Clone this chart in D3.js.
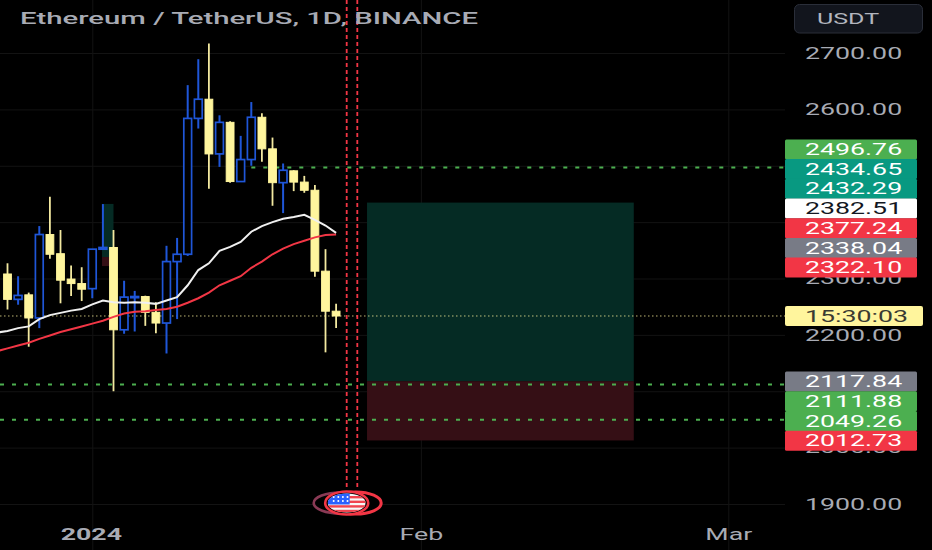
<!DOCTYPE html>
<html>
<head>
<meta charset="utf-8">
<script src="https://cdn.jsdelivr.net/npm/d3@7"></script>
<style>
  html, body { margin: 0; background: #000; }
  svg { display: block; }
  text { font-family: Roboto, sans-serif; }
</style>
</head>
<body>
<div id="chart"></div>
<script>
// Candles, one per day starting at firstDay
const firstDay = new Date(Date.UTC(2023, 11, 24));
const opens  = [2308, 2263, 2271, 2230, 2378, 2344, 2299, 2291, 2282, 2352, 2355, 2209, 2266, 2268, 2240, 2221, 2330, 2343, 2584, 2618, 2521, 2577, 2472, 2511, 2586, 2530, 2470, 2491, 2471, 2456.5, 2313, 2242];
const highs  = [2327, 2304, 2275, 2393, 2445, 2386, 2323, 2320, 2352, 2432, 2386, 2296, 2278, 2269.5, 2258, 2358, 2372, 2643, 2689, 2717, 2589.5, 2579, 2553, 2613, 2593, 2550, 2504, 2492, 2482, 2466, 2352, 2255];
const lows   = [2245, 2253.5, 2179, 2212, 2335, 2256, 2269, 2260, 2265, 2352, 2100, 2202, 2206, 2216, 2203, 2167, 2228, 2340, 2566, 2459, 2498, 2470, 2472, 2500, 2507, 2429, 2416, 2455, 2452, 2303, 2169, 2212];
const closes = [2263, 2270, 2230, 2378, 2343, 2297, 2291, 2281, 2352, 2355, 2209, 2267, 2268, 2240, 2221, 2330, 2343, 2584, 2618, 2521, 2577, 2472, 2511, 2586, 2530, 2470, 2492, 2471, 2456.5, 2313, 2242, 2233.5];

// Moving averages, first value is one day before firstDay
const whiteMa = [2204, 2207, 2212, 2215, 2228, 2235, 2239, 2243, 2246, 2254, 2261, 2258, 2257, 2258, 2257, 2255, 2261, 2267, 2288, 2315, 2327, 2349, 2356, 2365, 2383, 2393, 2400, 2406, 2409, 2413, 2404, 2394, 2381];
const redMa   = [2171, 2176, 2181, 2186, 2193, 2199, 2205, 2210, 2215, 2220, 2225, 2232, 2238, 2241, 2242, 2244, 2246, 2250, 2257, 2265, 2275, 2288, 2296, 2304, 2319, 2330, 2343, 2353, 2361, 2367, 2373, 2377, 2378];

const gridPrices = [1900, 2000, 2100, 2200, 2300, 2400, 2500, 2600, 2700];
// 2100, 2400 and 2500 sit fully behind the tags, so they get no label
const priceTicks = [1900, 2000, 2200, 2300, 2600, 2700];
const timeTicks = [new Date(Date.UTC(2024, 0, 1)), new Date(Date.UTC(2024, 1, 1)), new Date(Date.UTC(2024, 2, 1))];
const timeLabels = ['2024', 'Feb', 'Mar'];

// Drawing objects on the chart
const greenLevels = [2496.76, 2111.88, 2049.26];
const greenLevelStarts = [new Date(Date.UTC(2024, 0, 16)), null, null];
const eventDays = [new Date(Date.UTC(2024, 0, 25)), new Date(Date.UTC(2024, 0, 26))];
const bigPosition = { start: new Date(Date.UTC(2024, 0, 26, 22)), end: new Date(Date.UTC(2024, 1, 21, 2)), target: 2434.65, entry: 2117.84, stop: 2012.73 };
const smallPosition = { start: new Date(Date.UTC(2024, 0, 1, 22)), end: new Date(Date.UTC(2024, 0, 3)), target: 2432.29, entry: 2338.04, stop: 2322.10 };
const lastPrice = 2233.5;

// Tags on the price scale
const upperTags = ['2496.76', '2434.65', '2432.29', '2382.51', '2377.24', '2338.04', '2322.10'];
const upperTagKinds = ['green', 'teal', 'teal', 'white', 'red', 'grey', 'red'];
const lowerTags = ['2117.84', '2111.88', '2049.26', '2012.73'];
const lowerTagKinds = ['grey', 'green', 'green', 'red'];
const countdown = '15:30:03';
const title = 'Ethereum / TetherUS, 1D, BINANCE';
const currency = 'USDT';

const width = 932;
const height = 550;
const plotRight = 785;

const tagColors = {
  green: { fill: '#4caf50', text: '#fff' },
  teal: { fill: '#089981', text: '#fff' },
  white: { fill: '#fff', text: '#131722' },
  red: { fill: '#f23645', text: '#fff' },
  grey: { fill: '#787b86', text: '#fff' }
};
const candleCream = '#fff59d';
const candleBlue = '#1f56d8';

const svg = d3.select('#chart').append('svg')
  .attr('width', width)
  .attr('height', height)
  .style('background', '#000');

// Scales: 10.6 px per day, 56.4 px per 100
const xScale = d3.scaleUtc()
  .domain([timeTicks[0], timeTicks[2]])
  .range([92.3, 728.3]);

const yScale = d3.scaleLinear()
  .domain([1900, 2700])
  .range([504, 53]);

const dayAt = i => d3.utcDay.offset(firstDay, i);

// The reference is stretched sideways, so stretch the text the same way
function stretch(selection, factor) {
  selection.each(function() {
    d3.select(this)
      .attr('textLength', this.getComputedTextLength() * factor)
      .attr('lengthAdjust', 'spacingAndGlyphs');
  });
}

// Grid
const gridY = svg.append('g')
  .call(d3.axisLeft(yScale).tickValues(gridPrices).tickSize(-plotRight).tickFormat(''));
gridY.select('.domain').remove();
gridY.selectAll('line').attr('stroke', '#131313');

const gridX = svg.append('g')
  .attr('transform', `translate(0, ${height})`)
  .call(d3.axisBottom(xScale).tickValues(timeTicks).tickSize(-height).tickFormat(''));
gridX.select('.domain').remove();
gridX.selectAll('line').attr('stroke', '#131313');

// Position boxes
function drawPosition(p, greenFill, redFill) {
  svg.append('rect')
    .attr('x', xScale(p.start))
    .attr('y', yScale(p.target))
    .attr('width', xScale(p.end) - xScale(p.start))
    .attr('height', yScale(p.entry) - yScale(p.target))
    .attr('fill', greenFill);
  svg.append('rect')
    .attr('x', xScale(p.start))
    .attr('y', yScale(p.entry))
    .attr('width', xScale(p.end) - xScale(p.start))
    .attr('height', yScale(p.stop) - yScale(p.entry))
    .attr('fill', redFill);
}
drawPosition(bigPosition, '#052b24', '#350f15');
drawPosition(smallPosition, '#052b24', '#350f15');

// Last price line
svg.append('line')
  .attr('x1', 0)
  .attr('x2', plotRight)
  .attr('y1', yScale(lastPrice))
  .attr('y2', yScale(lastPrice))
  .attr('stroke', candleCream)
  .attr('stroke-opacity', 0.75)
  .attr('stroke-dasharray', '1.5 2.5');

// Green levels
svg.selectAll('.level')
  .data(greenLevels)
  .join('line')
  .attr('class', 'level')
  .attr('x1', (d, i) => greenLevelStarts[i] ? xScale(greenLevelStarts[i]) : 0)
  .attr('x2', plotRight)
  .attr('y1', d => yScale(d))
  .attr('y2', d => yScale(d))
  .attr('stroke', '#4caf50')
  .attr('stroke-width', 2)
  .attr('stroke-dasharray', '4 8');

// Candles
const candles = svg.selectAll('.candle')
  .data(opens.map((o, i) => ({ day: dayAt(i), open: o, high: highs[i], low: lows[i], close: closes[i] })))
  .join('g')
  .attr('class', 'candle');

candles.append('line')
  .attr('x1', d => xScale(d.day))
  .attr('x2', d => xScale(d.day))
  .attr('y1', d => yScale(d.high))
  .attr('y2', d => yScale(d.low))
  .attr('stroke', d => d.close >= d.open ? candleBlue : '#f3e9a0')
  .attr('stroke-width', d => d.close >= d.open ? 2 : 1.8);

candles.append('rect')
  .attr('x', d => xScale(d.day) - 3.9)
  .attr('width', 7.8)
  .attr('y', d => yScale(Math.max(d.open, d.close)))
  .attr('height', d => Math.abs(yScale(d.open) - yScale(d.close)))
  .attr('fill', d => d.close >= d.open ? '#000' : candleCream)
  .attr('stroke', d => d.close >= d.open ? candleBlue : candleCream)
  .attr('stroke-width', d => d.close >= d.open ? 1.7 : 1);

// Moving averages
const maLine = d3.line()
  .x((d, i) => xScale(dayAt(i - 1)))
  .y(d => yScale(d));

svg.append('path')
  .datum(redMa)
  .attr('fill', 'none')
  .attr('stroke', '#f23645')
  .attr('stroke-width', 2)
  .attr('d', maLine);

svg.append('path')
  .datum(whiteMa)
  .attr('fill', 'none')
  .attr('stroke', '#f0f0f0')
  .attr('stroke-width', 2)
  .attr('d', maLine);

// Event lines
svg.selectAll('.event')
  .data(eventDays)
  .join('line')
  .attr('class', 'event')
  .attr('x1', d => xScale(d))
  .attr('x2', d => xScale(d))
  .attr('y1', 0)
  .attr('y2', 490)
  .attr('stroke', '#f23645')
  .attr('stroke-width', 1.8)
  .attr('stroke-dasharray', '4 3');

// Event marker with the flag
const flagX = xScale(eventDays[0]);
const flagY = 503;
const flag = svg.append('g').attr('transform', `translate(${flagX}, ${flagY})`);

flag.append('ellipse').attr('cx', -6).attr('rx', 27).attr('ry', 10.5).attr('fill', '#000').attr('stroke', '#8a3a55').attr('stroke-width', 2.6);
flag.append('ellipse').attr('cx', 9).attr('rx', 25.5).attr('ry', 11).attr('fill', '#000').attr('stroke', '#f23645').attr('stroke-width', 3);
flag.append('ellipse').attr('rx', 21.5).attr('ry', 11.5).attr('fill', '#000').attr('stroke', '#f23645').attr('stroke-width', 2.6);

svg.append('defs').append('clipPath').attr('id', 'flag-clip')
  .append('ellipse').attr('rx', 19).attr('ry', 9.5);

const flagBody = flag.append('g').attr('clip-path', 'url(#flag-clip)');
flagBody.append('rect').attr('x', -19).attr('y', -10).attr('width', 38).attr('height', 20).attr('fill', '#f7f7f7');
d3.range(4).forEach(i => {
  flagBody.append('rect').attr('x', -19).attr('y', -7 + i * 4.6).attr('width', 38).attr('height', 2.4).attr('fill', '#f0444f');
});
flagBody.append('rect').attr('x', -19).attr('y', -10).attr('width', 22).attr('height', 11.5).attr('fill', '#2962ff');
d3.range(2).forEach(r => d3.range(4).forEach(c => {
  flagBody.append('circle').attr('cx', -13 + c * 4.6).attr('cy', -6 + r * 4).attr('r', 1).attr('fill', '#fff');
}));

// Price axis
const priceAxis = svg.append('g')
  .attr('transform', `translate(${plotRight}, 0)`)
  .call(d3.axisRight(yScale).tickValues(priceTicks).tickSize(0).tickPadding(20).tickFormat(d3.format('.2f')));
priceAxis.select('.domain').remove();
priceAxis.selectAll('text')
  .attr('fill', '#a8abb4')
  .style('font-size', '16px')
  .style('font-family', 'Roboto, sans-serif')
  .call(stretch, 1.67);

// Time axis
const timeAxis = svg.append('g')
  .attr('transform', 'translate(0, 534)')
  .call(d3.axisBottom(xScale).tickValues(timeTicks).tickSize(0).tickPadding(0).tickFormat((d, i) => timeLabels[i]));
timeAxis.select('.domain').remove();
timeAxis.selectAll('text')
  .attr('x', (d, i) => i === 0 ? -1.5 : 0)
  .attr('y', 0)
  .attr('dy', '0.35em')
  .attr('fill', '#a8abb4')
  .style('font-size', '16px')
  .style('font-family', 'Roboto, sans-serif')
  .style('font-weight', (d, i) => i === 0 ? 700 : 400)
  .call(stretch, 1.67);

// Price scale tags, stacked the way the platform pushes them apart
function drawTags(labels, kinds, top) {
  const rowHeight = 19.7;
  const tags = svg.append('g').selectAll('g')
    .data(labels)
    .join('g')
    .attr('transform', (d, i) => `translate(785, ${top + i * rowHeight})`);
  tags.append('rect')
    .attr('width', 132)
    .attr('height', rowHeight + 0.3)
    .attr('rx', 1.5)
    .attr('fill', (d, i) => tagColors[kinds[i]].fill);
  tags.append('text')
    .attr('x', 20)
    .attr('y', rowHeight / 2)
    .attr('dy', '0.36em')
    .attr('fill', (d, i) => tagColors[kinds[i]].text)
    .style('font-size', '16px')
    .text(d => d)
    .call(stretch, 1.67);
}
drawTags(upperTags, upperTagKinds, 139.4);
drawTags(lowerTags, lowerTagKinds, 371.6);

// Countdown tag
svg.append('rect')
  .attr('x', 785)
  .attr('y', 306)
  .attr('width', 138)
  .attr('height', 20)
  .attr('rx', 2)
  .attr('fill', candleCream);
svg.append('text')
  .attr('x', 805)
  .attr('y', 316)
  .attr('dy', '0.36em')
  .attr('fill', '#3a3a32')
  .style('font-size', '16px')
  .text(countdown)
  .call(stretch, 1.67);

// Currency button
svg.append('rect')
  .attr('x', 794.5)
  .attr('y', 4.5)
  .attr('width', 128)
  .attr('height', 28.5)
  .attr('rx', 5)
  .attr('fill', '#12151d')
  .attr('stroke', '#2a2e39');
svg.append('text')
  .attr('x', 848)
  .attr('y', 18.5)
  .attr('dy', '0.36em')
  .attr('text-anchor', 'middle')
  .attr('fill', '#b2b5be')
  .style('font-size', '15px')
  .text(currency)
  .call(stretch, 1.67);

// Title
svg.append('text')
  .attr('x', 20)
  .attr('y', 24)
  .attr('fill', '#a8abb4')
  .style('font-size', '16px')
  .style('font-weight', 500)
  .text(title)
  .attr('textLength', 458)
  .attr('lengthAdjust', 'spacingAndGlyphs');
</script>
</body>
</html>
